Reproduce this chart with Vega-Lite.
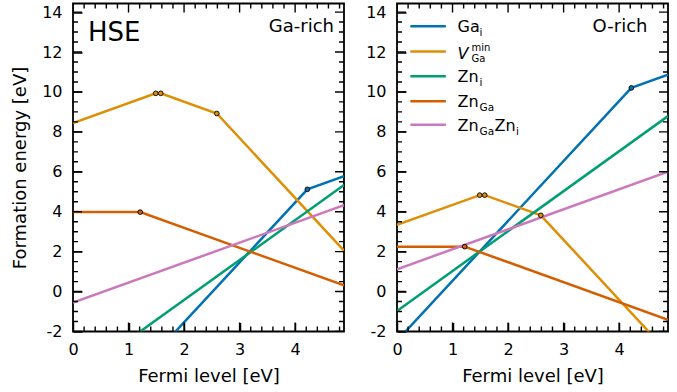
{
  "$schema": "https://vega.github.io/schema/vega-lite/v6.json",
  "padding": {"left": 10, "top": 2.5, "right": 5, "bottom": 0},
  "spacing": 19,
  "datasets": {
    "lines": [
      {"panel": "Ga-rich", "defect": "Ga_i", "x": 0, "E": -7.54},
      {"panel": "Ga-rich", "defect": "Ga_i", "x": 4.22, "E": 5.12},
      {"panel": "Ga-rich", "defect": "Ga_i", "x": 4.88, "E": 5.78},
      {"panel": "Ga-rich", "defect": "V_Ga", "x": 0, "E": 8.44},
      {"panel": "Ga-rich", "defect": "V_Ga", "x": 1.49, "E": 9.93},
      {"panel": "Ga-rich", "defect": "V_Ga", "x": 1.58, "E": 9.93},
      {"panel": "Ga-rich", "defect": "V_Ga", "x": 2.59, "E": 8.92},
      {"panel": "Ga-rich", "defect": "V_Ga", "x": 4.88, "E": 2.05},
      {"panel": "Ga-rich", "defect": "Zn_i", "x": 0, "E": -4.42},
      {"panel": "Ga-rich", "defect": "Zn_i", "x": 4.88, "E": 5.34},
      {"panel": "Ga-rich", "defect": "Zn_Ga", "x": 0, "E": 3.98},
      {"panel": "Ga-rich", "defect": "Zn_Ga", "x": 1.21, "E": 3.98},
      {"panel": "Ga-rich", "defect": "Zn_Ga", "x": 4.88, "E": 0.31},
      {"panel": "Ga-rich", "defect": "ZnGaZn_i", "x": 0, "E": -0.55},
      {"panel": "Ga-rich", "defect": "ZnGaZn_i", "x": 4.88, "E": 4.33},
      {"panel": "O-rich", "defect": "Ga_i", "x": 0, "E": -2.46},
      {"panel": "O-rich", "defect": "Ga_i", "x": 4.22, "E": 10.2},
      {"panel": "O-rich", "defect": "Ga_i", "x": 4.88, "E": 10.86},
      {"panel": "O-rich", "defect": "V_Ga", "x": 0, "E": 3.34},
      {"panel": "O-rich", "defect": "V_Ga", "x": 1.49, "E": 4.83},
      {"panel": "O-rich", "defect": "V_Ga", "x": 1.58, "E": 4.83},
      {"panel": "O-rich", "defect": "V_Ga", "x": 2.59, "E": 3.82},
      {"panel": "O-rich", "defect": "V_Ga", "x": 4.88, "E": -3.05},
      {"panel": "O-rich", "defect": "Zn_i", "x": 0, "E": -0.97},
      {"panel": "O-rich", "defect": "Zn_i", "x": 4.88, "E": 8.79},
      {"panel": "O-rich", "defect": "Zn_Ga", "x": 0, "E": 2.25},
      {"panel": "O-rich", "defect": "Zn_Ga", "x": 1.22, "E": 2.25},
      {"panel": "O-rich", "defect": "Zn_Ga", "x": 4.88, "E": -1.41},
      {"panel": "O-rich", "defect": "ZnGaZn_i", "x": 0, "E": 1.12},
      {"panel": "O-rich", "defect": "ZnGaZn_i", "x": 4.88, "E": 6.0}
    ],
    "trans": [
      {"panel": "Ga-rich", "defect": "V_Ga", "x": 1.49, "E": 9.93},
      {"panel": "Ga-rich", "defect": "V_Ga", "x": 1.58, "E": 9.93},
      {"panel": "Ga-rich", "defect": "V_Ga", "x": 2.59, "E": 8.92},
      {"panel": "Ga-rich", "defect": "Ga_i", "x": 4.22, "E": 5.12},
      {"panel": "Ga-rich", "defect": "Zn_Ga", "x": 1.21, "E": 3.98},
      {"panel": "O-rich", "defect": "V_Ga", "x": 1.49, "E": 4.83},
      {"panel": "O-rich", "defect": "V_Ga", "x": 1.58, "E": 4.83},
      {"panel": "O-rich", "defect": "V_Ga", "x": 2.59, "E": 3.82},
      {"panel": "O-rich", "defect": "Ga_i", "x": 4.22, "E": 10.2},
      {"panel": "O-rich", "defect": "Zn_Ga", "x": 1.22, "E": 2.25}
    ],
    "notes": [
      {"panel": "Ga-rich", "kind": "method", "text": "HSE", "x": 0.27, "y": 12.54},
      {"panel": "Ga-rich", "kind": "condition", "text": "Ga-rich", "x": 4.70, "y": 12.99},
      {"panel": "O-rich", "kind": "condition", "text": "O-rich", "x": 4.51, "y": 12.99}
    ],
    "legend": [
      {"defect": "Ga_i", "x0": 0.24, "x1": 0.88, "tx": 1.09, "ly": 13.29, "main": "Ga", "sub": "i", "sup": "", "main2": "", "sub2": ""},
      {"defect": "V_Ga", "x0": 0.24, "x1": 0.88, "tx": 1.09, "ly": 12.02, "main": "V", "sub": "Ga", "sup": "min", "main2": "", "sub2": ""},
      {"defect": "Zn_i", "x0": 0.24, "x1": 0.88, "tx": 1.09, "ly": 10.78, "main": "Zn", "sub": "i", "sup": "", "main2": "", "sub2": ""},
      {"defect": "Zn_Ga", "x0": 0.24, "x1": 0.88, "tx": 1.09, "ly": 9.53, "main": "Zn", "sub": "Ga", "sup": "", "main2": "", "sub2": ""},
      {"defect": "ZnGaZn_i", "x0": 0.24, "x1": 0.88, "tx": 1.09, "ly": 8.36, "main": "Zn", "sub": "Ga", "sup": "", "main2": "Zn", "sub2": "i"}
    ],
    "ticks": [
      {"axis": "x", "kind": "major", "v": 0}, {"axis": "x", "kind": "major", "v": 1}, {"axis": "x", "kind": "major", "v": 2}, {"axis": "x", "kind": "major", "v": 3}, {"axis": "x", "kind": "major", "v": 4},
      {"axis": "x", "kind": "minor", "v": 0.2}, {"axis": "x", "kind": "minor", "v": 0.4}, {"axis": "x", "kind": "minor", "v": 0.6}, {"axis": "x", "kind": "minor", "v": 0.8},
      {"axis": "x", "kind": "minor", "v": 1.2}, {"axis": "x", "kind": "minor", "v": 1.4}, {"axis": "x", "kind": "minor", "v": 1.6}, {"axis": "x", "kind": "minor", "v": 1.8},
      {"axis": "x", "kind": "minor", "v": 2.2}, {"axis": "x", "kind": "minor", "v": 2.4}, {"axis": "x", "kind": "minor", "v": 2.6}, {"axis": "x", "kind": "minor", "v": 2.8},
      {"axis": "x", "kind": "minor", "v": 3.2}, {"axis": "x", "kind": "minor", "v": 3.4}, {"axis": "x", "kind": "minor", "v": 3.6}, {"axis": "x", "kind": "minor", "v": 3.8},
      {"axis": "x", "kind": "minor", "v": 4.2}, {"axis": "x", "kind": "minor", "v": 4.4}, {"axis": "x", "kind": "minor", "v": 4.6}, {"axis": "x", "kind": "minor", "v": 4.8},
      {"axis": "y", "kind": "major", "v": -2}, {"axis": "y", "kind": "major", "v": 0}, {"axis": "y", "kind": "major", "v": 2}, {"axis": "y", "kind": "major", "v": 4}, {"axis": "y", "kind": "major", "v": 6},
      {"axis": "y", "kind": "major", "v": 8}, {"axis": "y", "kind": "major", "v": 10}, {"axis": "y", "kind": "major", "v": 12}, {"axis": "y", "kind": "major", "v": 14},
      {"axis": "y", "kind": "minor", "v": -1.5}, {"axis": "y", "kind": "minor", "v": -1}, {"axis": "y", "kind": "minor", "v": -0.5},
      {"axis": "y", "kind": "minor", "v": 0.5}, {"axis": "y", "kind": "minor", "v": 1}, {"axis": "y", "kind": "minor", "v": 1.5},
      {"axis": "y", "kind": "minor", "v": 2.5}, {"axis": "y", "kind": "minor", "v": 3}, {"axis": "y", "kind": "minor", "v": 3.5},
      {"axis": "y", "kind": "minor", "v": 4.5}, {"axis": "y", "kind": "minor", "v": 5}, {"axis": "y", "kind": "minor", "v": 5.5},
      {"axis": "y", "kind": "minor", "v": 6.5}, {"axis": "y", "kind": "minor", "v": 7}, {"axis": "y", "kind": "minor", "v": 7.5},
      {"axis": "y", "kind": "minor", "v": 8.5}, {"axis": "y", "kind": "minor", "v": 9}, {"axis": "y", "kind": "minor", "v": 9.5},
      {"axis": "y", "kind": "minor", "v": 10.5}, {"axis": "y", "kind": "minor", "v": 11}, {"axis": "y", "kind": "minor", "v": 11.5},
      {"axis": "y", "kind": "minor", "v": 12.5}, {"axis": "y", "kind": "minor", "v": 13}, {"axis": "y", "kind": "minor", "v": 13.5}
    ]
  },
  "hconcat": [
    {
      "width": 271,
      "height": 328,
      "view": {"stroke": "#000", "strokeWidth": 1.8},
      "resolve": {"axis": {"x": "independent", "y": "independent"}},
      "layer": [
        {
          "data": {"name": "lines"},
          "transform": [{"filter": "datum.panel == 'Ga-rich'"}],
          "mark": {"type": "line", "strokeWidth": 2.5, "clip": true},
          "encoding": {
            "x": {"field": "x", "type": "quantitative", "scale": {"domain": [0, 4.88], "nice": false, "zero": false},
                  "axis": {"orient": "bottom", "values": [0, 1, 2, 3, 4], "domain": false, "grid": false, "offset": -9, "tickSize": 9, "tickColor": "#000", "tickWidth": 1.5,
                           "labelFont": "DejaVu Sans", "labelFontSize": 16, "labelColor": "#000", "labelPadding": 10, "labelFlush": false, "labelOverlap": false, "labelExpr": "toString(datum.value)",
                           "title": "Fermi level [eV]", "titleFont": "DejaVu Sans", "titleFontSize": 18, "titleFontWeight": "normal", "titleColor": "#000", "titlePadding": 10}},
            "y": {"field": "E", "type": "quantitative", "scale": {"domain": [-2, 14.43], "nice": false, "zero": false},
                  "axis": {"orient": "left", "values": [-2, 0, 2, 4, 6, 8, 10, 12, 14], "domain": false, "grid": false, "offset": -9, "tickSize": 9, "tickColor": "#000", "tickWidth": 1.5,
                           "labelFont": "DejaVu Sans", "labelFontSize": 16, "labelColor": "#000", "labelPadding": 11, "labelFlush": false, "labelOverlap": false, "labelExpr": "toString(datum.value)",
                           "title": "Formation energy [eV]", "titleFont": "DejaVu Sans", "titleFontSize": 18, "titleFontWeight": "normal", "titleColor": "#000", "titlePadding": 12}},
            "color": {"field": "defect", "type": "nominal", "legend": null,
                      "scale": {"domain": ["Ga_i", "V_Ga", "Zn_i", "Zn_Ga", "ZnGaZn_i"], "range": ["#0173b2", "#de8f05", "#029e73", "#d55e00", "#cc78bc"]}}
          }
        },
        {
          "data": {"name": "trans"},
          "transform": [{"filter": "datum.panel == 'Ga-rich'"}],
          "mark": {"type": "circle", "size": 22, "stroke": "#000", "strokeWidth": 0.9, "opacity": 1},
          "encoding": {
            "x": {"field": "x", "type": "quantitative", "scale": {"domain": [0, 4.88], "nice": false, "zero": false}, "axis": null},
            "y": {"field": "E", "type": "quantitative", "scale": {"domain": [-2, 14.43], "nice": false, "zero": false}, "axis": null},
            "fill": {"field": "defect", "type": "nominal", "legend": null,
                     "scale": {"domain": ["Ga_i", "V_Ga", "Zn_i", "Zn_Ga", "ZnGaZn_i"], "range": ["#0173b2", "#de8f05", "#029e73", "#d55e00", "#cc78bc"]}}
          }
        },
        {
          "data": {"name": "notes"},
          "transform": [{"filter": "datum.panel == 'Ga-rich' && datum.kind == 'method'"}],
          "mark": {"type": "text", "font": "DejaVu Sans", "fontSize": 26, "align": "left", "baseline": "alphabetic", "color": "#000"},
          "encoding": {
            "x": {"field": "x", "type": "quantitative", "scale": {"domain": [0, 4.88], "nice": false, "zero": false}, "axis": null},
            "y": {"field": "y", "type": "quantitative", "scale": {"domain": [-2, 14.43], "nice": false, "zero": false}, "axis": null},
            "text": {"field": "text"}
          }
        },
        {
          "data": {"name": "notes"},
          "transform": [{"filter": "datum.panel == 'Ga-rich' && datum.kind == 'condition'"}],
          "mark": {"type": "text", "font": "DejaVu Sans", "fontSize": 18, "align": "right", "baseline": "alphabetic", "color": "#000"},
          "encoding": {
            "x": {"field": "x", "type": "quantitative", "scale": {"domain": [0, 4.88], "nice": false, "zero": false}, "axis": null},
            "y": {"field": "y", "type": "quantitative", "scale": {"domain": [-2, 14.43], "nice": false, "zero": false}, "axis": null},
            "text": {"field": "text"}
          }
        },
        {
          "data": {"name": "ticks"},
          "transform": [{"filter": "datum.axis == 'x'"}],
          "mark": {"type": "tick", "orient": "vertical", "thickness": 1.4, "color": "#000", "opacity": 1, "clip": true},
          "encoding": {
            "x": {"field": "v", "type": "quantitative", "scale": {"domain": [0, 4.88], "nice": false, "zero": false}, "axis": null},
            "y": {"datum": -2, "type": "quantitative", "scale": {"domain": [-2, 14.43], "nice": false, "zero": false}, "axis": null},
            "size": {"field": "kind", "type": "nominal", "legend": null, "scale": {"domain": ["major", "minor"], "range": [18, 10]}}
          }
        },
        {
          "data": {"name": "ticks"},
          "transform": [{"filter": "datum.axis == 'x'"}],
          "mark": {"type": "tick", "orient": "vertical", "thickness": 1.4, "color": "#000", "opacity": 1, "clip": true},
          "encoding": {
            "x": {"field": "v", "type": "quantitative", "scale": {"domain": [0, 4.88], "nice": false, "zero": false}, "axis": null},
            "y": {"datum": 14.43, "type": "quantitative", "scale": {"domain": [-2, 14.43], "nice": false, "zero": false}, "axis": null},
            "size": {"field": "kind", "type": "nominal", "legend": null, "scale": {"domain": ["major", "minor"], "range": [18, 10]}}
          }
        },
        {
          "data": {"name": "ticks"},
          "transform": [{"filter": "datum.axis == 'y'"}],
          "mark": {"type": "tick", "orient": "horizontal", "thickness": 1.4, "color": "#000", "opacity": 1, "clip": true},
          "encoding": {
            "y": {"field": "v", "type": "quantitative", "scale": {"domain": [-2, 14.43], "nice": false, "zero": false}, "axis": null},
            "x": {"datum": 0, "type": "quantitative", "scale": {"domain": [0, 4.88], "nice": false, "zero": false}, "axis": null},
            "size": {"field": "kind", "type": "nominal", "legend": null, "scale": {"domain": ["major", "minor"], "range": [18, 10]}}
          }
        },
        {
          "data": {"name": "ticks"},
          "transform": [{"filter": "datum.axis == 'y'"}],
          "mark": {"type": "tick", "orient": "horizontal", "thickness": 1.4, "color": "#000", "opacity": 1, "clip": true},
          "encoding": {
            "y": {"field": "v", "type": "quantitative", "scale": {"domain": [-2, 14.43], "nice": false, "zero": false}, "axis": null},
            "x": {"datum": 4.88, "type": "quantitative", "scale": {"domain": [0, 4.88], "nice": false, "zero": false}, "axis": null},
            "size": {"field": "kind", "type": "nominal", "legend": null, "scale": {"domain": ["major", "minor"], "range": [18, 10]}}
          }
        }
      ]
    },
    {
      "width": 271,
      "height": 328,
      "view": {"stroke": "#000", "strokeWidth": 1.8},
      "resolve": {"axis": {"x": "independent", "y": "independent"}},
      "layer": [
        {
          "data": {"name": "lines"},
          "transform": [{"filter": "datum.panel == 'O-rich'"}],
          "mark": {"type": "line", "strokeWidth": 2.5, "clip": true},
          "encoding": {
            "x": {"field": "x", "type": "quantitative", "scale": {"domain": [0, 4.88], "nice": false, "zero": false},
                  "axis": {"orient": "bottom", "values": [0, 1, 2, 3, 4], "domain": false, "grid": false, "offset": -9, "tickSize": 9, "tickColor": "#000", "tickWidth": 1.5,
                           "labelFont": "DejaVu Sans", "labelFontSize": 16, "labelColor": "#000", "labelPadding": 10, "labelFlush": false, "labelOverlap": false, "labelExpr": "toString(datum.value)",
                           "title": "Fermi level [eV]", "titleFont": "DejaVu Sans", "titleFontSize": 18, "titleFontWeight": "normal", "titleColor": "#000", "titlePadding": 10}},
            "y": {"field": "E", "type": "quantitative", "scale": {"domain": [-2, 14.43], "nice": false, "zero": false},
                  "axis": {"orient": "left", "values": [-2, 0, 2, 4, 6, 8, 10, 12, 14], "domain": false, "grid": false, "offset": -9, "tickSize": 9, "tickColor": "#000", "tickWidth": 1.5,
                           "labelFont": "DejaVu Sans", "labelFontSize": 16, "labelColor": "#000", "labelPadding": 11, "labelFlush": false, "labelOverlap": false, "labelExpr": "toString(datum.value)",
                           "title": null}},
            "color": {"field": "defect", "type": "nominal", "legend": null,
                      "scale": {"domain": ["Ga_i", "V_Ga", "Zn_i", "Zn_Ga", "ZnGaZn_i"], "range": ["#0173b2", "#de8f05", "#029e73", "#d55e00", "#cc78bc"]}}
          }
        },
        {
          "data": {"name": "trans"},
          "transform": [{"filter": "datum.panel == 'O-rich'"}],
          "mark": {"type": "circle", "size": 22, "stroke": "#000", "strokeWidth": 0.9, "opacity": 1},
          "encoding": {
            "x": {"field": "x", "type": "quantitative", "scale": {"domain": [0, 4.88], "nice": false, "zero": false}, "axis": null},
            "y": {"field": "E", "type": "quantitative", "scale": {"domain": [-2, 14.43], "nice": false, "zero": false}, "axis": null},
            "fill": {"field": "defect", "type": "nominal", "legend": null,
                     "scale": {"domain": ["Ga_i", "V_Ga", "Zn_i", "Zn_Ga", "ZnGaZn_i"], "range": ["#0173b2", "#de8f05", "#029e73", "#d55e00", "#cc78bc"]}}
          }
        },
        {
          "data": {"name": "notes"},
          "transform": [{"filter": "datum.panel == 'O-rich'"}],
          "mark": {"type": "text", "font": "DejaVu Sans", "fontSize": 18, "align": "right", "baseline": "alphabetic", "color": "#000"},
          "encoding": {
            "x": {"field": "x", "type": "quantitative", "scale": {"domain": [0, 4.88], "nice": false, "zero": false}, "axis": null},
            "y": {"field": "y", "type": "quantitative", "scale": {"domain": [-2, 14.43], "nice": false, "zero": false}, "axis": null},
            "text": {"field": "text"}
          }
        },
        {
          "data": {"name": "legend"},
          "mark": {"type": "rule", "strokeWidth": 2.5},
          "encoding": {
            "x": {"field": "x0", "type": "quantitative", "scale": {"domain": [0, 4.88], "nice": false, "zero": false}, "axis": null},
            "x2": {"field": "x1"},
            "y": {"field": "ly", "type": "quantitative", "scale": {"domain": [-2, 14.43], "nice": false, "zero": false}, "axis": null},
            "color": {"field": "defect", "type": "nominal", "legend": null,
                      "scale": {"domain": ["Ga_i", "V_Ga", "Zn_i", "Zn_Ga", "ZnGaZn_i"], "range": ["#0173b2", "#de8f05", "#029e73", "#d55e00", "#cc78bc"]}}
          }
        },
        {
          "data": {"name": "legend"},
          "transform": [{"filter": "datum.defect != 'V_Ga'"}],
          "mark": {"type": "text", "font": "DejaVu Sans", "fontSize": 16, "align": "left", "baseline": "alphabetic", "dy": 6, "color": "#000"},
          "encoding": {
            "x": {"field": "tx", "type": "quantitative", "scale": {"domain": [0, 4.88], "nice": false, "zero": false}, "axis": null},
            "y": {"field": "ly", "type": "quantitative", "scale": {"domain": [-2, 14.43], "nice": false, "zero": false}, "axis": null},
            "text": {"field": "main"}
          }
        },
        {
          "data": {"name": "legend"},
          "transform": [{"filter": "datum.defect != 'V_Ga'"}],
          "mark": {"type": "text", "font": "DejaVu Sans", "fontSize": 10.5, "align": "left", "baseline": "alphabetic", "dx": 22, "dy": 10, "color": "#000"},
          "encoding": {
            "x": {"field": "tx", "type": "quantitative", "scale": {"domain": [0, 4.88], "nice": false, "zero": false}, "axis": null},
            "y": {"field": "ly", "type": "quantitative", "scale": {"domain": [-2, 14.43], "nice": false, "zero": false}, "axis": null},
            "text": {"field": "sub"}
          }
        },
        {
          "data": {"name": "legend"},
          "transform": [{"filter": "datum.defect == 'V_Ga'"}],
          "mark": {"type": "text", "font": "DejaVu Sans", "fontSize": 16, "fontStyle": "italic", "align": "left", "baseline": "alphabetic", "dy": 7, "color": "#000"},
          "encoding": {
            "x": {"field": "tx", "type": "quantitative", "scale": {"domain": [0, 4.88], "nice": false, "zero": false}, "axis": null},
            "y": {"field": "ly", "type": "quantitative", "scale": {"domain": [-2, 14.43], "nice": false, "zero": false}, "axis": null},
            "text": {"field": "main"}
          }
        },
        {
          "data": {"name": "legend"},
          "transform": [{"filter": "datum.defect == 'V_Ga'"}],
          "mark": {"type": "text", "font": "DejaVu Sans", "fontSize": 10, "align": "left", "baseline": "alphabetic", "dx": 14, "dy": 10.5, "color": "#000"},
          "encoding": {
            "x": {"field": "tx", "type": "quantitative", "scale": {"domain": [0, 4.88], "nice": false, "zero": false}, "axis": null},
            "y": {"field": "ly", "type": "quantitative", "scale": {"domain": [-2, 14.43], "nice": false, "zero": false}, "axis": null},
            "text": {"field": "sub"}
          }
        },
        {
          "data": {"name": "legend"},
          "transform": [{"filter": "datum.defect == 'V_Ga'"}],
          "mark": {"type": "text", "font": "DejaVu Sans", "fontSize": 10, "align": "left", "baseline": "alphabetic", "dx": 14, "dy": -0.5, "color": "#000"},
          "encoding": {
            "x": {"field": "tx", "type": "quantitative", "scale": {"domain": [0, 4.88], "nice": false, "zero": false}, "axis": null},
            "y": {"field": "ly", "type": "quantitative", "scale": {"domain": [-2, 14.43], "nice": false, "zero": false}, "axis": null},
            "text": {"field": "sup"}
          }
        },
        {
          "data": {"name": "legend"},
          "transform": [{"filter": "datum.defect == 'ZnGaZn_i'"}],
          "mark": {"type": "text", "font": "DejaVu Sans", "fontSize": 16, "align": "left", "baseline": "alphabetic", "dx": 37, "dy": 6, "color": "#000"},
          "encoding": {
            "x": {"field": "tx", "type": "quantitative", "scale": {"domain": [0, 4.88], "nice": false, "zero": false}, "axis": null},
            "y": {"field": "ly", "type": "quantitative", "scale": {"domain": [-2, 14.43], "nice": false, "zero": false}, "axis": null},
            "text": {"field": "main2"}
          }
        },
        {
          "data": {"name": "legend"},
          "transform": [{"filter": "datum.defect == 'ZnGaZn_i'"}],
          "mark": {"type": "text", "font": "DejaVu Sans", "fontSize": 10.5, "align": "left", "baseline": "alphabetic", "dx": 58.5, "dy": 10, "color": "#000"},
          "encoding": {
            "x": {"field": "tx", "type": "quantitative", "scale": {"domain": [0, 4.88], "nice": false, "zero": false}, "axis": null},
            "y": {"field": "ly", "type": "quantitative", "scale": {"domain": [-2, 14.43], "nice": false, "zero": false}, "axis": null},
            "text": {"field": "sub2"}
          }
        },
        {
          "data": {"name": "ticks"},
          "transform": [{"filter": "datum.axis == 'x'"}],
          "mark": {"type": "tick", "orient": "vertical", "thickness": 1.4, "color": "#000", "opacity": 1, "clip": true},
          "encoding": {
            "x": {"field": "v", "type": "quantitative", "scale": {"domain": [0, 4.88], "nice": false, "zero": false}, "axis": null},
            "y": {"datum": -2, "type": "quantitative", "scale": {"domain": [-2, 14.43], "nice": false, "zero": false}, "axis": null},
            "size": {"field": "kind", "type": "nominal", "legend": null, "scale": {"domain": ["major", "minor"], "range": [18, 10]}}
          }
        },
        {
          "data": {"name": "ticks"},
          "transform": [{"filter": "datum.axis == 'x'"}],
          "mark": {"type": "tick", "orient": "vertical", "thickness": 1.4, "color": "#000", "opacity": 1, "clip": true},
          "encoding": {
            "x": {"field": "v", "type": "quantitative", "scale": {"domain": [0, 4.88], "nice": false, "zero": false}, "axis": null},
            "y": {"datum": 14.43, "type": "quantitative", "scale": {"domain": [-2, 14.43], "nice": false, "zero": false}, "axis": null},
            "size": {"field": "kind", "type": "nominal", "legend": null, "scale": {"domain": ["major", "minor"], "range": [18, 10]}}
          }
        },
        {
          "data": {"name": "ticks"},
          "transform": [{"filter": "datum.axis == 'y'"}],
          "mark": {"type": "tick", "orient": "horizontal", "thickness": 1.4, "color": "#000", "opacity": 1, "clip": true},
          "encoding": {
            "y": {"field": "v", "type": "quantitative", "scale": {"domain": [-2, 14.43], "nice": false, "zero": false}, "axis": null},
            "x": {"datum": 0, "type": "quantitative", "scale": {"domain": [0, 4.88], "nice": false, "zero": false}, "axis": null},
            "size": {"field": "kind", "type": "nominal", "legend": null, "scale": {"domain": ["major", "minor"], "range": [18, 10]}}
          }
        },
        {
          "data": {"name": "ticks"},
          "transform": [{"filter": "datum.axis == 'y'"}],
          "mark": {"type": "tick", "orient": "horizontal", "thickness": 1.4, "color": "#000", "opacity": 1, "clip": true},
          "encoding": {
            "y": {"field": "v", "type": "quantitative", "scale": {"domain": [-2, 14.43], "nice": false, "zero": false}, "axis": null},
            "x": {"datum": 4.88, "type": "quantitative", "scale": {"domain": [0, 4.88], "nice": false, "zero": false}, "axis": null},
            "size": {"field": "kind", "type": "nominal", "legend": null, "scale": {"domain": ["major", "minor"], "range": [18, 10]}}
          }
        }
      ]
    }
  ]
}
